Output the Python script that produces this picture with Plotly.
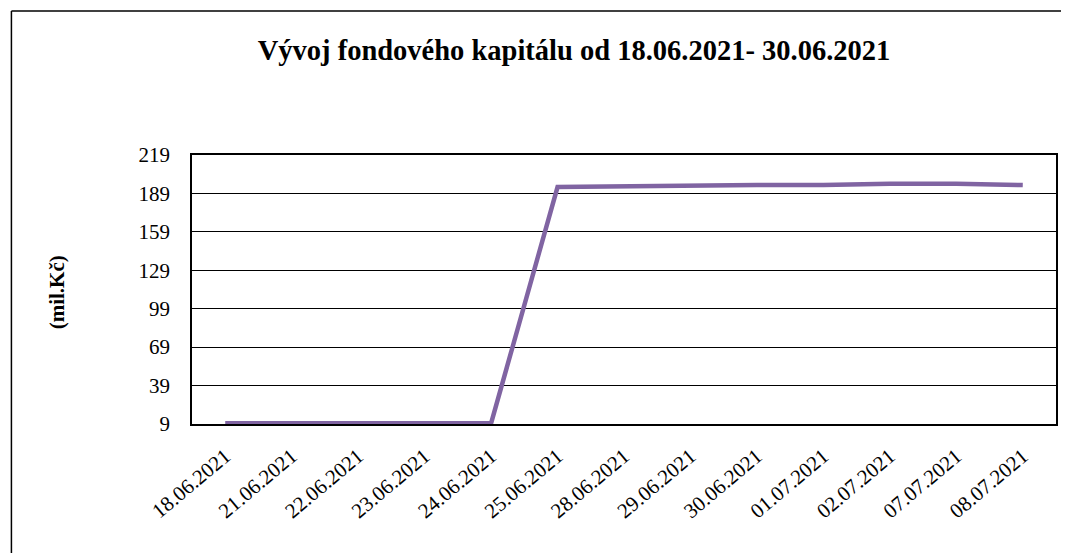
import plotly.graph_objects as go

dates = ["18.06.2021", "21.06.2021", "22.06.2021", "23.06.2021", "24.06.2021",
         "25.06.2021", "28.06.2021", "29.06.2021", "30.06.2021", "01.07.2021",
         "02.07.2021", "07.07.2021", "08.07.2021"]
capital = [9.5, 9.5, 9.5, 9.5, 9.5, 194.0, 194.5, 195.5, 195.5, 195.5, 196.5, 196.5, 195.5]
y_ticks = [9, 39, 69, 99, 129, 159, 189, 219]

# page has an 8px body margin; the figure is placed from (8,8)
OFF = 8
W, H = 1069 - OFF, 553 - OFF
PL, PR, PT, PB = 192, 1058, 155, 424   # plot area in page pixels
L, T = PL - OFF, PT - OFF
R = W - (PR - OFF)
B = H - (PB - OFF)
pw, ph = PR - PL, PB - PT

def px_x(x):
    return (x - PL) / pw

def px_y(y):
    return (PB - y) / ph

fig = go.Figure()
fig.add_trace(go.Scatter(
    x=list(range(len(dates))), y=capital, mode="lines",
    line=dict(color="#8064A2", width=4.5), showlegend=False, hoverinfo="skip"))

serif = "Liberation Serif, Times New Roman, serif"
border = dict(color="black", width=1.5)
fig.update_layout(
    width=W, height=H,
    margin=dict(l=L, r=R, t=T, b=B),
    paper_bgcolor="white", plot_bgcolor="white",
    font=dict(family=serif, color="black", size=21),
    title=dict(text="<b>Vývoj fondového kapitálu od 18.06.2021- 30.06.2021</b>",
               x=(574 - OFF) / W, xanchor="center", y=1 - (50 - OFF) / H, yanchor="middle",
               font=dict(size=28.5, family=serif, color="black")),
    xaxis=dict(
        tickmode="array", tickvals=list(range(len(dates))), ticktext=dates,
        range=[-0.5, len(dates) - 0.5], tickangle=-40,
        showgrid=False, zeroline=False,
        showline=True, linecolor="black", linewidth=1.5, mirror=True,
        ticks="outside", ticklen=10, tickcolor="rgba(0,0,0,0)",
        tickfont=dict(size=21, family=serif)),
    yaxis=dict(
        tickmode="array", tickvals=y_ticks, range=[9, 219],
        showgrid=True, gridcolor="black", gridwidth=1, zeroline=False,
        showline=True, linecolor="black", linewidth=1.5, mirror=True,
        ticks="outside", ticklen=16, tickcolor="rgba(0,0,0,0)",
        tickfont=dict(size=21, family=serif)),
    shapes=[
        dict(type="line", xref="paper", yref="paper",
             x0=px_x(11), x1=px_x(1100), y0=px_y(11), y1=px_y(11), line=border, layer="below"),
        dict(type="line", xref="paper", yref="paper",
             x0=px_x(11), x1=px_x(11), y0=px_y(11), y1=px_y(600), line=border, layer="below"),
    ],
    annotations=[dict(text="<b>(mil.Kč)</b>", xref="paper", yref="paper",
                      x=px_x(57), y=px_y(292), textangle=-90, showarrow=False,
                      xanchor="center", yanchor="middle",
                      font=dict(size=21, family=serif, color="black"))],
)

fig.write_html("out.html", config={"displayModeBar": False})
